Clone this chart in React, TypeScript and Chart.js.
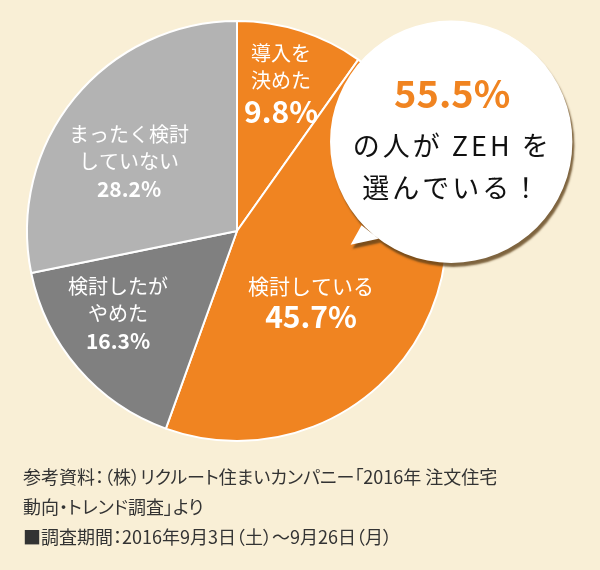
import React, { useEffect, useRef } from "react";
import { Chart, registerables } from "chart.js";

Chart.register(...registerables);

// ---- data ----
const categories = ["導入を決めた", "検討している", "検討したがやめた", "まったく検討していない"];
const categoryLines = [["導入を", "決めた"], ["検討している"], ["検討したが", "やめた"], ["まったく検討", "していない"]];
const values = [9.8, 45.7, 16.3, 28.2];
const sliceColors = ["#F08421", "#F08421", "#808080", "#B3B3B3"];
const highlightIdx = [0, 1];
const bubbleLines = ["の人が ZEH を", "選んでいる！"];
const sourceLines = [
  "参考資料：（株）リクルート住まいカンパニー「2016年 注文住宅",
  "動向・トレンド調査」より",
  "■調査期間：2016年9月3日（土）～9月26日（月）",
];

const BG = "#F9EFD6";
const ORANGE = "#F08421";
const FONT = '"Noto Sans CJK JP", "Noto Sans", sans-serif';

// label layout (offsets from pie centre)
const labelLayout = [
  { dx: 44, lineY: [-178, -151], pctY: -119, size: 20, pctSize: 30 },
  { dx: 74, lineY: [55], pctY: 86, size: 21, pctSize: 30 },
  { dx: -119, lineY: [55, 82], pctY: 110, size: 20, pctSize: 21 },
  { dx: -108, lineY: [-97, -70], pctY: -42, size: 20, pctSize: 21 },
];

const overlayPlugin = {
  id: "overlay",
  afterDatasetsDraw(chart: any) {
    const ctx = chart.ctx as CanvasRenderingContext2D;
    const arc = chart.getDatasetMeta(0).data[0];
    const cx = arc.x;
    const cy = arc.y;
    const R = arc.outerRadius;

    // slice labels
    ctx.save();
    ctx.fillStyle = "#FFFFFF";
    ctx.textAlign = "center";
    ctx.textBaseline = "middle";
    values.forEach((v, i) => {
      const L = labelLayout[i];
      ctx.font = `400 ${L.size}px ${FONT}`;
      categoryLines[i].forEach((line, j) => {
        ctx.fillText(line, cx + L.dx, cy + L.lineY[j]);
      });
      ctx.font = `700 ${L.pctSize}px ${FONT}`;
      ctx.fillText(`${v.toFixed(1)}%`, cx + L.dx, cy + L.pctY);
    });
    ctx.restore();

    // speech bubble
    const bx = cx + R * 1.02;
    const by = cy - R * 0.425;
    const br = R * 0.577;
    ctx.save();
    ctx.beginPath();
    ctx.arc(bx, by, br, 0, Math.PI * 2, false);
    ctx.moveTo(bx - br * 0.74, by + br * 0.69);
    ctx.lineTo(bx - br * 0.6, by + br * 0.8);
    ctx.lineTo(bx - br * 0.83, by + br * 0.85);
    ctx.closePath();
    ctx.shadowColor = "rgba(95,65,25,0.8)";
    ctx.shadowBlur = 2;
    ctx.shadowOffsetX = 2;
    ctx.shadowOffsetY = 4;
    ctx.fillStyle = "#FFFFFF";
    ctx.fill("nonzero");
    ctx.restore();

    const total = highlightIdx.reduce((s, i) => s + values[i], 0);
    ctx.save();
    ctx.textAlign = "center";
    ctx.textBaseline = "middle";
    ctx.fillStyle = ORANGE;
    ctx.font = `700 38px ${FONT}`;
    ctx.fillText(`${total.toFixed(1)}%`, bx + 1, by - 48);
    ctx.fillStyle = "#111111";
    ctx.font = `400 27px ${FONT}`;
    (ctx as any).letterSpacing = "3px";
    ctx.fillText(bubbleLines[0], bx + 1, by + 4);
    ctx.fillText(bubbleLines[1], bx + 1, by + 46);
    ctx.restore();
  },
};

export default function App() {
  const ref = useRef<HTMLCanvasElement | null>(null);

  useEffect(() => {
    document.body.style.margin = "0";
    document.body.style.background = BG;
    if (!ref.current) return;
    const chart = new Chart(ref.current, {
      type: "pie",
      data: {
        labels: categories,
        datasets: [
          {
            data: values,
            backgroundColor: sliceColors,
            borderColor: "#FFFFFF",
            borderWidth: 2,
          },
        ],
      },
      options: {
        responsive: false,
        animation: false,
        layout: { padding: { left: 26, top: 20, right: 152, bottom: 128 } },
        plugins: { legend: { display: false }, tooltip: { enabled: false } },
      },
      plugins: [overlayPlugin],
    });
    return () => chart.destroy();
  }, []);

  return (
    <div style={{ position: "relative", width: 600, height: 570, background: BG }}>
      <canvas ref={ref} width={600} height={570} style={{ display: "block" }} />
      <div
        style={{
          position: "absolute",
          left: 23,
          top: 461,
          fontFamily: FONT,
          fontSize: 18,
          lineHeight: "30px",
          color: "#333333",
          fontFeatureSettings: '"palt"',
          whiteSpace: "nowrap",
        }}
      >
        {sourceLines.map((line, i) => (
          <div key={i}>{line}</div>
        ))}
      </div>
    </div>
  );
}
